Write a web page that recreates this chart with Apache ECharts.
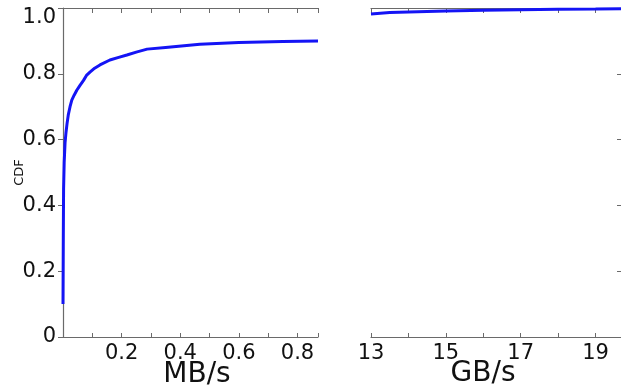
<!DOCTYPE html>
<html>
<head>
<meta charset="utf-8">
<script src="https://cdn.jsdelivr.net/npm/echarts@6/dist/echarts.min.js"></script>
<style>
  html, body { margin: 0; padding: 0; background: #fff; }
  #chart { width: 621px; height: 387px; }
</style>
</head>
<body>
<div id="chart"></div>
<script>
// Low-rate part of the throughput CDF (MB/s)
const mbRate = [0, 0.001, 0.002, 0.004, 0.007, 0.010, 0.014, 0.018, 0.024, 0.030, 0.038, 0.047, 0.058, 0.070, 0.080, 0.092, 0.108, 0.126, 0.160, 0.190, 0.218, 0.250, 0.287, 0.350, 0.467, 0.600, 0.750, 0.870];
const mbCdf  = [0.10, 0.30, 0.45, 0.53, 0.59, 0.62, 0.65, 0.675, 0.70, 0.72, 0.735, 0.75, 0.765, 0.78, 0.795, 0.805, 0.817, 0.827, 0.842, 0.850, 0.857, 0.866, 0.875, 0.880, 0.890, 0.895, 0.898, 0.900];

// High-rate tail of the throughput CDF (GB/s)
const gbRate = [13.0, 13.5, 14.0, 15.0, 16.0, 17.0, 18.0, 19.0, 19.7];
const gbCdf  = [0.982, 0.986, 0.988, 0.991, 0.993, 0.995, 0.996, 0.997, 0.998];

// Tick label text
const cdfTicks = [0, 0.2, 0.4, 0.6, 0.8, 1.0];
const mbLabels = [0.2, 0.4, 0.6, 0.8];
const gbLabels = [13, 15, 17, 19];

const axisGray = '#6a6a6a';
const font = 'DejaVu Sans';
const blue = '#1414f5';

function near(v, list) {
  return list.find(t => Math.abs(t - v) < 1e-6);
}

const chart = echarts.init(document.getElementById('chart'), null, { renderer: 'canvas' });

const frameLine = { show: true, lineStyle: { color: axisGray, width: 1.2 } };

chart.setOption({
  animation: false,
  backgroundColor: '#fff',
  grid: [
    { left: 63, top: 8, width: 255, height: 329, containLabel: false, outerBoundsMode: 'none' },
    { left: 371, top: 8, right: 0, height: 329, containLabel: false, outerBoundsMode: 'none' }
  ],
  xAxis: [
    {
      type: 'value', gridIndex: 0, position: 'bottom',
      min: 0, max: 0.87, interval: 0.1,
      name: 'MB/s', nameLocation: 'middle', nameGap: 24, nameMoveOverlap: false,
      nameTextStyle: { fontFamily: font, fontSize: 28, color: '#111', padding: [0, 0, 0, 13] },
      axisLine: frameLine,
      axisTick: { show: true, inside: true, length: 4, lineStyle: { color: axisGray } },
      axisLabel: {
        fontFamily: font, fontSize: 21, color: '#111', margin: 6,
        formatter: v => { const t = near(v, mbLabels); return t !== undefined ? t.toFixed(1) : ''; }
      },
      splitLine: { show: false }
    },
    {
      type: 'value', gridIndex: 0, position: 'top',
      min: 0, max: 0.87, interval: 0.1,
      axisLine: frameLine,
      axisTick: { show: true, inside: true, length: 5, lineStyle: { color: axisGray } },
      axisLabel: { show: false },
      splitLine: { show: false }
    },
    {
      type: 'value', gridIndex: 1, position: 'bottom',
      min: 13, max: 19.68, interval: 1,
      name: 'GB/s', nameLocation: 'middle', nameGap: 23, nameMoveOverlap: false,
      nameTextStyle: { fontFamily: font, fontSize: 28, color: '#111', padding: [0, 26, 0, 0] },
      axisLine: frameLine,
      axisTick: { show: true, inside: true, length: 4, lineStyle: { color: axisGray } },
      axisLabel: {
        fontFamily: font, fontSize: 21, color: '#111', margin: 6,
        formatter: v => { const t = near(v, gbLabels); return t !== undefined ? String(t) : ''; }
      },
      splitLine: { show: false }
    },
    {
      type: 'value', gridIndex: 1, position: 'top',
      min: 13, max: 19.68, interval: 1,
      axisLine: frameLine,
      axisTick: { show: true, inside: true, length: 5, lineStyle: { color: axisGray } },
      axisLabel: { show: false },
      splitLine: { show: false }
    }
  ],
  yAxis: [
    {
      type: 'value', gridIndex: 0, position: 'left',
      min: 0, max: 1, interval: 0.2,
      name: 'CDF', nameLocation: 'middle', nameGap: 37, nameRotate: 90, nameMoveOverlap: false,
      nameTextStyle: { fontFamily: font, fontSize: 13, color: '#111' },
      axisLine: frameLine,
      axisTick: { show: true, inside: false, length: 5, lineStyle: { color: axisGray } },
      axisLabel: {
        fontFamily: font, fontSize: 21, color: '#111', margin: 7, lineHeight: 20,
        formatter: v => {
          const t = near(v, cdfTicks);
          if (t === undefined) return '';
          if (t === 0) return '0';
          // the top label sits a little below its tick
          if (t === 1) return '\n1.0';
          return t.toFixed(1);
        }
      },
      splitLine: { show: false }
    },
    {
      type: 'value', gridIndex: 1, position: 'right',
      min: 0, max: 1, interval: 0.2,
      axisLine: { show: false },
      axisTick: { show: true, inside: true, length: 4, lineStyle: { color: axisGray } },
      axisLabel: { show: false },
      splitLine: { show: false }
    }
  ],
  series: [
    {
      type: 'line', xAxisIndex: 0, yAxisIndex: 0,
      data: mbRate.map((x, i) => [x, mbCdf[i]]),
      showSymbol: false, clip: true,
      lineStyle: { color: blue, width: 3, join: 'round' }
    },
    {
      type: 'line', xAxisIndex: 2, yAxisIndex: 1,
      data: gbRate.map((x, i) => [x, gbCdf[i]]),
      showSymbol: false, clip: true,
      lineStyle: { color: blue, width: 3 }
    }
  ]
});
</script>
</body>
</html>
